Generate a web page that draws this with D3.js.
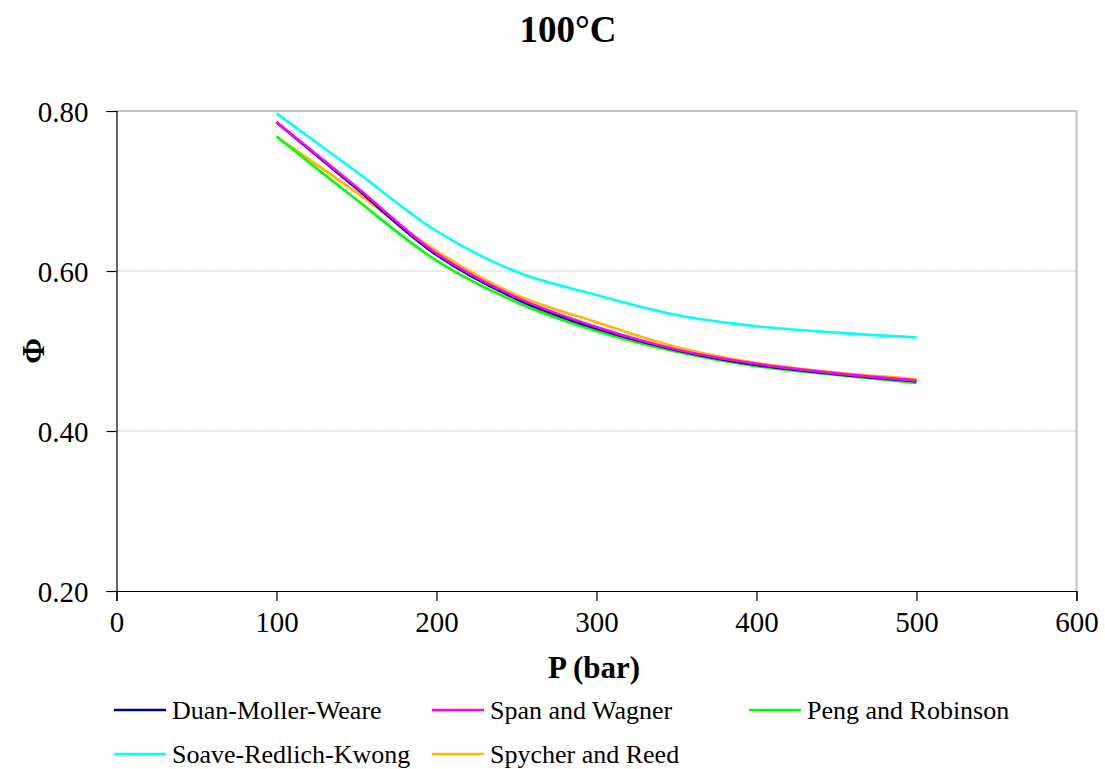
<!DOCTYPE html>
<html>
<head>
<meta charset="utf-8">
<script src="https://cdn.jsdelivr.net/npm/d3@7"></script>
<style>
  html, body { margin: 0; padding: 0; background: #fff; }
  svg { display: block; }
  text { font-family: "Liberation Serif", "Times New Roman", serif; fill: #000; }
</style>
</head>
<body>
<svg id="chart" width="1105" height="769"></svg>
<script>
// Fugacity coefficient of CO2 at 100°C versus pressure, per equation of state
const pressures = [100, 150, 200, 250, 300, 350, 400, 450, 500];
const duanMollerWeare   = [0.786, 0.703, 0.620, 0.565, 0.528, 0.501, 0.4825, 0.471, 0.462];
const spanWagner        = [0.786, 0.705, 0.622, 0.567, 0.530, 0.502, 0.484, 0.472, 0.463];
const pengRobinson      = [0.768, 0.689, 0.613, 0.561, 0.525, 0.499, 0.481, 0.470, 0.460];
const soaveRedlichKwong = [0.797, 0.724, 0.650, 0.599, 0.570, 0.545, 0.531, 0.523, 0.517];
const spycherReed       = [0.768, 0.698, 0.625, 0.570, 0.536, 0.505, 0.485, 0.473, 0.465];

const seriesNames = ["Duan-Moller-Weare", "Span and Wagner", "Peng and Robinson",
                     "Soave-Redlich-Kwong", "Spycher and Reed"];
const seriesColors = ["#000080", "#FF00FF", "#00FF00", "#00FFFF", "#FFB800"];
const seriesValues = [duanMollerWeare, spanWagner, pengRobinson, soaveRedlichKwong, spycherReed];
// drawing order (legend order differs)
const drawOrder = [3, 4, 2, 0, 1];

const xTicks = [0, 100, 200, 300, 400, 500, 600];
const yTicks = [0.20, 0.40, 0.60, 0.80];

const svg = d3.select("#chart");
const plotL = 116.5, plotR = 1076.5, plotT = 111, plotB = 591;

const x = d3.scaleLinear().domain([0, 600]).range([plotL, plotR]);
const y = d3.scaleLinear().domain([0.20, 0.80]).range([plotB, plotT]);

// horizontal gridlines
svg.append("g").selectAll("line")
  .data(yTicks.filter(v => v > 0.2 && v < 0.8))
  .join("line")
  .attr("x1", plotL).attr("x2", plotR)
  .attr("y1", d => y(d)).attr("y2", d => y(d))
  .attr("stroke", "#bdbdbd").attr("stroke-width", 1)
  .attr("stroke-dasharray", "2,1");

// top and right frame
svg.append("path")
  .attr("d", `M${plotL},${plotT}H${plotR}V${plotB}`)
  .attr("fill", "none").attr("stroke", "#c0c0c0").attr("stroke-width", 2);

// axes
const xAxis = d3.axisBottom(x).tickValues(xTicks).tickSize(10).tickPadding(10)
  .tickFormat(d3.format("d"));
const yAxis = d3.axisLeft(y).tickValues(yTicks).tickSize(10).tickPadding(18)
  .tickFormat(d3.format(".2f"));

const gx = svg.append("g").attr("transform", `translate(0,${plotB})`).call(xAxis);
const gy = svg.append("g").attr("transform", `translate(${plotL},0)`).call(yAxis);
[gx, gy].forEach(g => {
  g.select(".domain").attr("stroke", "#000").attr("stroke-width", 1.2);
  g.selectAll(".tick line").attr("stroke", "#000").attr("stroke-width", 1.2);
  g.selectAll("text").attr("font-family", "Liberation Serif").attr("font-size", 29).attr("fill", "#000");
});
gy.selectAll(".tick text").attr("dy", "0.35em");

// curves
const line = d3.line()
  .x((d, i) => x(pressures[i]))
  .y(d => y(d))
  .curve(d3.curveCatmullRom.alpha(0.5));

svg.append("g").selectAll("path")
  .data(drawOrder)
  .join("path")
  .attr("d", i => line(seriesValues[i]))
  .attr("fill", "none")
  .attr("stroke", i => seriesColors[i])
  .attr("stroke-width", 2.6)
  .attr("stroke-linejoin", "round");

// title and axis titles
svg.append("text").attr("x", 568).attr("y", 42).attr("text-anchor", "middle")
  .attr("font-size", 37).attr("font-weight", "bold").text("100°C");
svg.append("text").attr("x", 594).attr("y", 678).attr("text-anchor", "middle")
  .attr("font-size", 31).attr("font-weight", "bold").text("P (bar)");
svg.append("text").attr("transform", "translate(44,351) rotate(-90)")
  .attr("text-anchor", "middle").attr("font-size", 31).attr("font-weight", "bold").text("Φ");

// legend
const legendPos = [[114, 710], [432, 710], [749, 710], [114, 754], [432, 754]];
const lg = svg.append("g").selectAll("g")
  .data(seriesNames.map((n, i) => ({ n, i })))
  .join("g")
  .attr("transform", d => `translate(${legendPos[d.i][0]},${legendPos[d.i][1]})`);
lg.append("line").attr("x1", 0).attr("x2", 52).attr("y1", 0).attr("y2", 0)
  .attr("stroke", d => seriesColors[d.i]).attr("stroke-width", 2.6);
lg.append("text").attr("x", 58).attr("y", 0).attr("dy", "0.33em")
  .attr("font-size", 26).text(d => d.n);
</script>
</body>
</html>
